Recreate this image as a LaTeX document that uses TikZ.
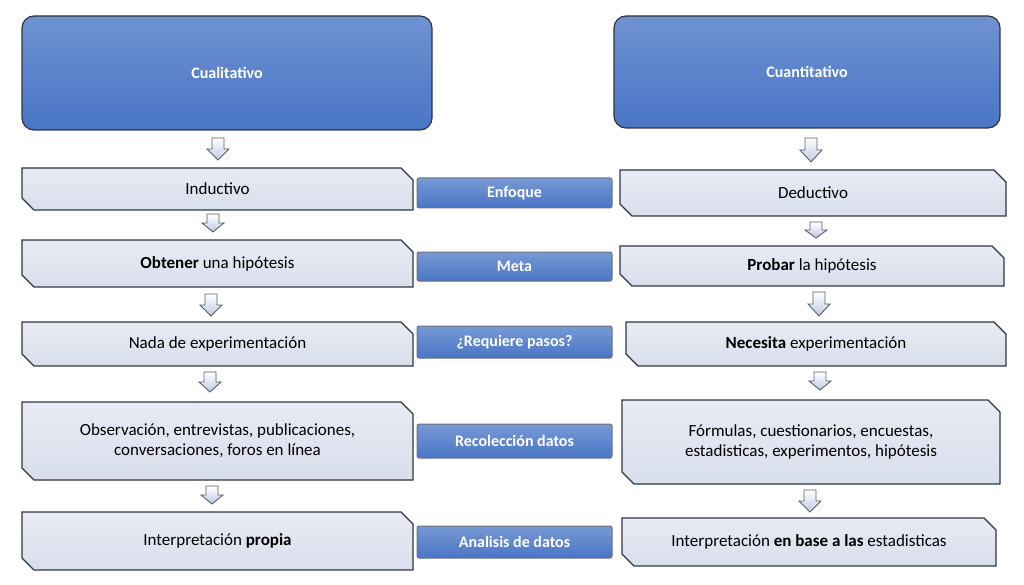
\documentclass[tikz,border=0pt]{standalone}
\usepackage{fontspec}
\setmainfont{Carlito}
\usetikzlibrary{shapes.misc}
\definecolor{hblue}{HTML}{4A76C6}
\definecolor{lbox}{HTML}{D9DEEC}
\definecolor{edge}{HTML}{2F3540}
\begin{document}
\begin{tikzpicture}[x=1pt,y=-1pt,
  hdr/.style={draw=edge,line width=1.2pt,rounded corners=12pt,top color=hblue!80!white,bottom color=hblue,text=white,font=\fontsize{16}{18}\selectfont\bfseries},
  box/.style={chamfered rectangle,chamfered rectangle corners={north east,south west},chamfered rectangle xsep=6pt,chamfered rectangle ysep=6pt,draw=edge,line width=1.2pt,top color=lbox!60!white,bottom color=lbox,text=black,font=\fontsize{17}{20}\selectfont,align=center,inner sep=0pt},
  mid/.style={draw=edge!70,line width=1pt,rounded corners=2pt,top color=hblue!75!white,bottom color=hblue,text=white,font=\fontsize{16}{18}\selectfont\bfseries,inner sep=0pt},
  darr/.style={draw=edge!80,line width=0.9pt,top color=white,bottom color=lbox!80!hblue}]
\useasboundingbox (0,0) rectangle (1024,585);
\newcommand{\blk}[5]{\node[#1,minimum width=#4-#2,minimum height=#5-#3] at ({(#2+#4)/2},{(#3+#5)/2})}
\newcommand{\darw}[3]{\draw[darr] (#1-6,#2) -- (#1+6,#2) -- (#1+6,{#2+0.5*(#3-#2)}) -- (#1+11,{#2+0.5*(#3-#2)}) -- (#1,#3) -- (#1-11,{#2+0.5*(#3-#2)}) -- (#1-6,{#2+0.5*(#3-#2)}) -- cycle;}
\blk{hdr}{22}{16}{432}{130} (hl) {Cualitativo};
\blk{hdr}{614}{16}{1000}{128} (hr) {Cuantitativo};
\blk{box}{22}{168}{413}{210} (l1) {Inductivo};
\blk{box}{22}{240}{413}{287} (l2) {\textbf{Obtener} una hipótesis};
\blk{box}{22}{322}{413}{366} (l3) {Nada de experimentación};
\blk{box}{22}{402}{413}{480} (l4) {Observación, entrevistas, publicaciones,\\conversaciones, foros en línea};
\blk{box}{22}{512}{413}{570} (l5) {Interpretación \textbf{propia}};
\blk{box}{620}{170}{1006}{216} (r1) {Deductivo};
\blk{box}{620}{246}{1004}{286} (r2) {\textbf{Probar} la hipótesis};
\blk{box}{626}{322}{1006}{366} (r3) {\textbf{Necesita} experimentación};
\blk{box}{622}{400}{1000}{484} (r4) {Fórmulas, cuestionarios, encuestas,\\estadisticas, experimentos, hipótesis};
\blk{box}{622}{518}{996}{566} (r5) {Interpretación \textbf{en base a las} estadisticas};
\blk{mid}{417}{178}{612}{208} (m1) {Enfoque};
\blk{mid}{417}{252}{612}{281} (m2) {Meta};
\blk{mid}{417}{326}{612}{358} (m3) {¿Requiere pasos?};
\blk{mid}{417}{424}{612}{458} (m4) {Recolección datos};
\blk{mid}{417}{526}{612}{558} (m5) {Analisis de datos};
\darw{218}{138}{160}
\darw{213}{214}{232}
\darw{211}{294}{316}
\darw{210}{372}{392}
\darw{212}{486}{504}
\darw{811}{138}{162}
\darw{816}{222}{238}
\darw{819}{292}{316}
\darw{820}{372}{390}
\darw{810}{490}{512}
\end{tikzpicture}
\end{document}
